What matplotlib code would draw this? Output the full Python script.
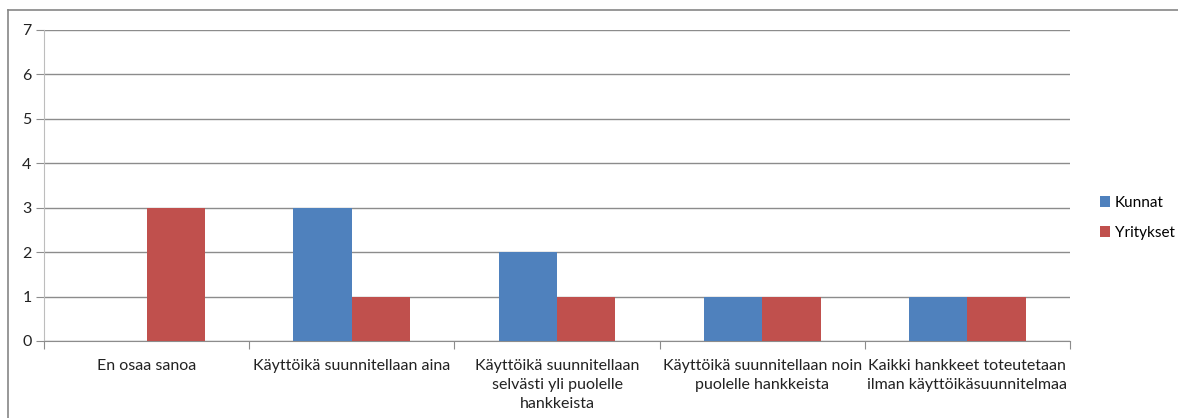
import numpy as np
import matplotlib.pyplot as plt
from matplotlib.lines import Line2D

plt.rcParams['font.family'] = ['Lato', 'DejaVu Sans']

# data
categories = ["En osaa sanoa",
              "Käyttöikä suunnitellaan aina",
              "Käyttöikä suunnitellaan\nselvästi yli puolelle\nhankkeista",
              "Käyttöikä suunnitellaan noin\npuolelle hankkeista",
              "Kaikki hankkeet toteutetaan\nilman käyttöikäsuunnitelmaa"]
kunnat = [0, 3, 2, 1, 1]
yritykset = [3, 1, 1, 1, 1]

fig = plt.figure(figsize=(11.78, 4.18), dpi=100)
ax = fig.add_axes([44 / 1178, 1 - 341 / 418, (1070 - 44) / 1178, (341 - 30) / 418])

x = np.arange(len(categories))
w = 0.285
ax.bar(x - w / 2, kunnat, w, color='#4F81BD', label='Kunnat', zorder=3)
ax.bar(x + w / 2, yritykset, w, color='#C0504D', label='Yritykset', zorder=3)

ax.set_xlim(-0.5, len(categories) - 0.5)
ax.set_ylim(0, 7)
ax.set_yticks(range(0, 8))
ax.yaxis.grid(True, color='#8c8c8c', linewidth=1, zorder=0)

# category boundaries as ticks, labels in the middle
ax.set_xticks(np.arange(-0.5, len(categories)), minor=False)
ax.set_xticklabels([])
ax.set_xticks(x, minor=True)
ax.set_xticklabels(categories, minor=True, fontsize=11.5, color='#222222', linespacing=1.45)
ax.tick_params(axis='x', which='major', length=6, color='#8c8c8c')
ax.tick_params(axis='x', which='minor', length=0, pad=13)
ax.tick_params(axis='y', length=6, color='#8c8c8c', labelsize=11.5, labelcolor='#222222', pad=3)

for s in ['top', 'right']:
    ax.spines[s].set_visible(False)
ax.spines['left'].set_color('#bdbdbd')
ax.spines['bottom'].set_color('#8c8c8c')

ax.legend(loc='center left', bbox_to_anchor=(1.02, 0.395), frameon=False,
          fontsize=11, handlelength=0.7, handleheight=0.7, handletextpad=0.3,
          labelspacing=1.05, borderpad=0, borderaxespad=0.6)

# outer chart border
fig.add_artist(Line2D([8 / 1178, 8 / 1178], [0, 1 - 10 / 418], color='#868686', lw=1.2))
fig.add_artist(Line2D([8 / 1178, 1], [1 - 10 / 418, 1 - 10 / 418], color='#868686', lw=1.2))

fig.savefig('out.png', dpi=100)
